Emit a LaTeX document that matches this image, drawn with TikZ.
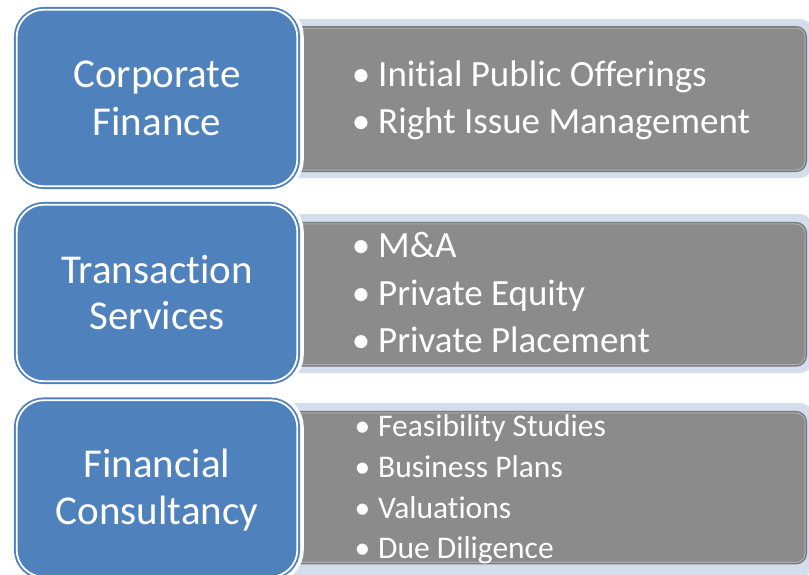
\documentclass[tikz,border=0pt]{standalone}
\usepackage{fontspec}
\setmainfont[Ligatures={NoCommon}]{Carlito}
\definecolor{boxblue}{HTML}{4F81BD}
\definecolor{bandblue}{HTML}{D4DDEC}
\definecolor{greyfill}{HTML}{8B8B8B}
\definecolor{greyline}{HTML}{7A7A7A}
\definecolor{greylight}{HTML}{AEAEAE}
\newcommand{\bul}{\llap{•\hspace{8pt}}}
\begin{document}
\begin{tikzpicture}[x=1pt,y=-1pt,
  titlebox/.style={fill=boxblue, draw=white, line width=1.8pt, rounded corners=27pt,
    minimum width=280.6pt, minimum height=176.6pt, inner sep=0pt,
    preaction={draw=white, line width=13pt},
    preaction={draw=boxblue, line width=5.5pt}},
  band/.style={fill=bandblue, rounded corners=12pt, inner sep=0pt, minimum width=562pt},
  listbox/.style={fill=greyfill, draw=greylight, line width=1pt, rounded corners=9pt,
    inner sep=0pt, minimum width=555pt,
    preaction={draw=greyline, line width=4pt}},
  title/.style={text=white, font=\fontsize{41}{48}\selectfont, anchor=base, inner sep=0pt},
  item/.style={text=white, font=\fontsize{37}{44}\selectfont, anchor=base west, inner sep=0pt},
  smallitem/.style={text=white, font=\fontsize{31.5}{38}\selectfont, anchor=base west, inner sep=0pt},
]
\useasboundingbox (0,0) rectangle (809,574);
\fill[white] (0,0) rectangle (809,574);

% grey list panels
\node[band, minimum height=159pt] (k1) at (531,98.5) {};
\node[listbox, minimum height=142pt] (g1) at (527.5,99) {};
\node[band, minimum height=159pt] (k2) at (531,293.5) {};
\node[listbox, minimum height=140.7pt] (g2) at (527.5,294.3) {};
\node[band, minimum height=174pt] (k3) at (531,490) {};
\node[listbox, minimum height=149.5pt] (g3) at (527.5,487.7) {};

% blue title boxes
\node[titlebox] (b1) at (157,98) {};
\node[titlebox] (b2) at (157,293) {};
\node[titlebox] (b3) at (157,488.5) {};

% titles
\node[title] (t1a) at (157,87) {Corporate};
\node[title] (t1b) at (157,135) {Finance};
\node[title] (t2a) at (157,283) {Transaction};
\node[title] (t2b) at (157,329.5) {Services};
\node[title] (t3a) at (157,477.3) {Financial};
\node[title] (t3b) at (157,524) {Consultancy};

% items
\node[item] (i1a) at (378,86) {\bul Initial Public Offerings};
\node[item] (i1b) at (378,133.3) {\bul Right Issue Management};
\node[item] (i2a) at (378,257.3) {\bul M\&A};
\node[item] (i2b) at (378,305) {\bul Private Equity};
\node[item] (i2c) at (378,352.7) {\bul Private Placement};
\node[smallitem] (i3a) at (378,436.7) {\bul Feasibility Studies};
\node[smallitem] (i3b) at (378,477.3) {\bul Business Plans};
\node[smallitem] (i3c) at (378,518.3) {\bul Valuations};
\node[smallitem] (i3d) at (378,558.3) {\bul Due Diligence};
\end{tikzpicture}
\end{document}
